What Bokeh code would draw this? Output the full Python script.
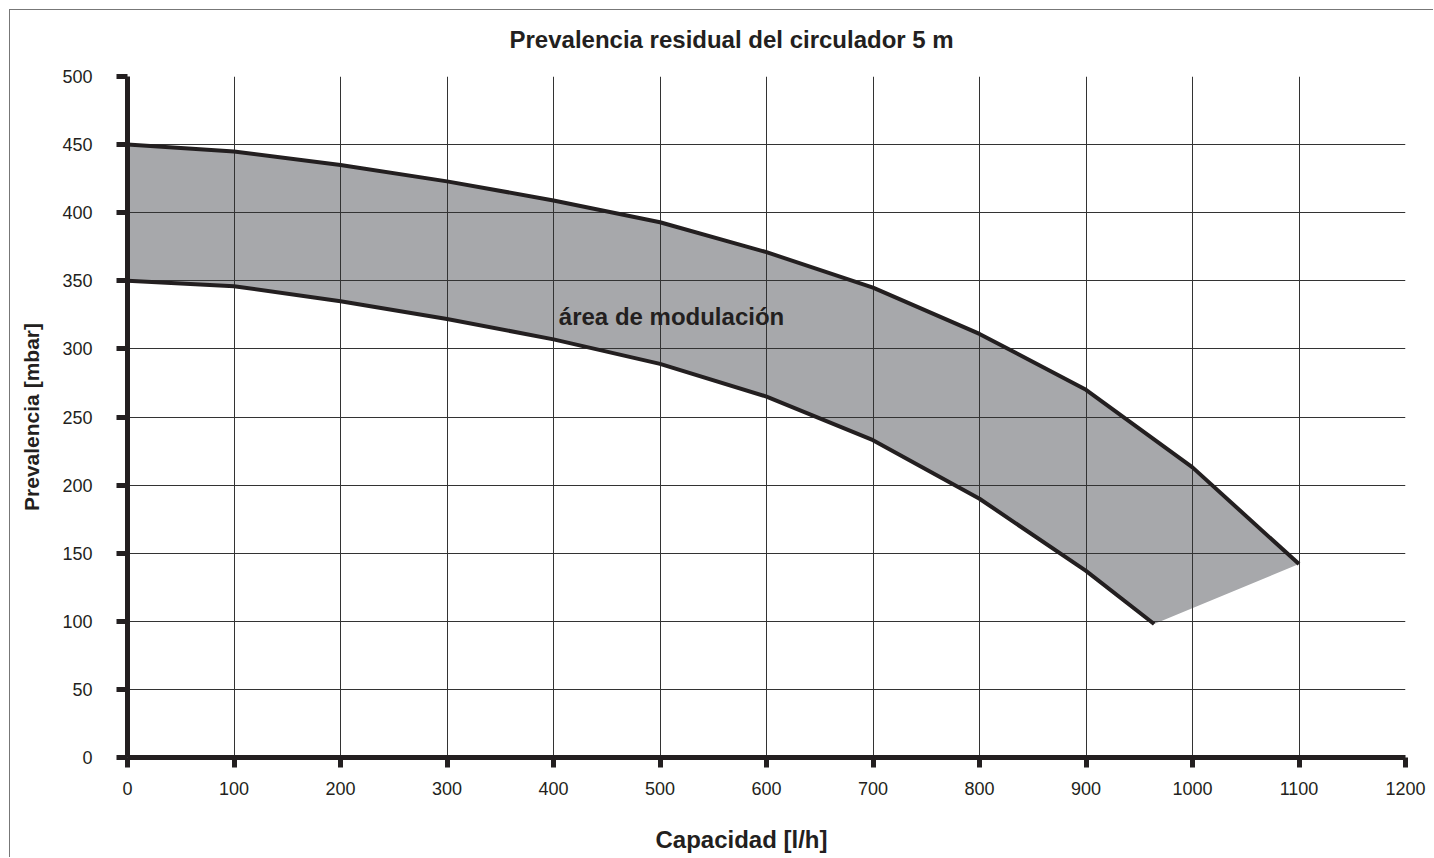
from bokeh.plotting import figure
from bokeh.models import FixedTicker, Range1d, Label, Title
from bokeh.embed import file_html
from bokeh.resources import INLINE

# ---- data ----
upper_x = [0, 100, 200, 300, 400, 500, 600, 700, 800, 900, 1000, 1100]
upper_y = [450, 445, 435, 423, 409, 393, 371, 345, 311, 270, 213, 142]
lower_x = [0, 100, 200, 300, 400, 500, 600, 700, 800, 900, 964]
lower_y = [350, 346, 335, 322, 307, 289, 265, 233, 190, 137, 98]
x_ticks = list(range(0, 1201, 100))
y_ticks = list(range(0, 501, 50))
title_text = "Prevalencia residual del circulador 5 m"
x_label = "Capacidad [l/h]"
y_label = "Prevalencia [mbar]"
area_label = "área de modulación"

FONT = "Liberation Sans"
INK = "#231f20"

p = figure(width=1424, height=848, output_backend="svg", toolbar_location=None,
           x_range=Range1d(0, 1200), y_range=Range1d(0, 500),
           min_border_left=117, min_border_right=29, min_border_top=66, min_border_bottom=101)
p.styles = {"margin-left": "9px", "margin-top": "9px",
            "border-left": "1px solid #777777", "border-top": "1px solid #777777"}
p.outline_line_color = None
p.background_fill_color = "white"
p.border_fill_color = "white"

# modulation area
poly_x = upper_x + lower_x[::-1]
poly_y = upper_y + lower_y[::-1]
p.patch(poly_x, poly_y, fill_color="#a7a8ab", line_color=None, level="image")

p.line(upper_x, upper_y, line_color=INK, line_width=4)
p.line(lower_x, lower_y, line_color=INK, line_width=4)

# axes
for ax in (p.xaxis[0], p.yaxis[0]):
    ax.axis_line_width = 5
    ax.axis_line_color = INK
    ax.major_tick_line_width = 5
    ax.major_tick_line_color = INK
    ax.major_tick_in = 0
    ax.minor_tick_line_color = None
    ax.major_label_text_font = FONT
    ax.major_label_text_font_size = "18px"
    ax.major_label_text_color = INK
p.xaxis.ticker = FixedTicker(ticks=x_ticks)
p.yaxis.ticker = FixedTicker(ticks=y_ticks)
p.xaxis.major_tick_out = 10
p.yaxis.major_tick_out = 11
p.xaxis.major_label_standoff = 14
p.yaxis.major_label_standoff = 24

p.yaxis.axis_label = y_label
p.yaxis.axis_label_text_font = FONT
p.yaxis.axis_label_text_font_style = "bold"
p.yaxis.axis_label_text_font_size = "21px"
p.yaxis.axis_label_text_color = INK
p.yaxis.axis_label_standoff = 16

p.xgrid.ticker = FixedTicker(ticks=x_ticks)
p.ygrid.ticker = FixedTicker(ticks=y_ticks)
p.grid.grid_line_color = "#333333"
p.grid.grid_line_width = 1
p.grid.grid_line_alpha = 1

# spacers + titles (spacer nearest to the frame)
p.add_layout(Title(text="\u00a0", text_font_size="1px", standoff=21), "above")
p.add_layout(Title(text=title_text, align="left", offset=382, standoff=0, vertical_align="bottom",
                   text_font=FONT, text_font_style="bold", text_font_size="24px",
                   text_color=INK), "above")
p.add_layout(Title(text="\u00a0", text_font_size="1px", standoff=25), "below")
p.add_layout(Title(text=x_label, align="left", offset=528, standoff=0, vertical_align="top",
                   text_font=FONT, text_font_style="bold", text_font_size="24px",
                   text_color=INK), "below")

p.add_layout(Label(x=405, y=323.5, text=area_label, text_align="left", text_baseline="middle",
                   text_font=FONT, text_font_style="bold", text_font_size="24px",
                   text_color=INK))

open("out.html", "w").write(file_html(p, INLINE))
